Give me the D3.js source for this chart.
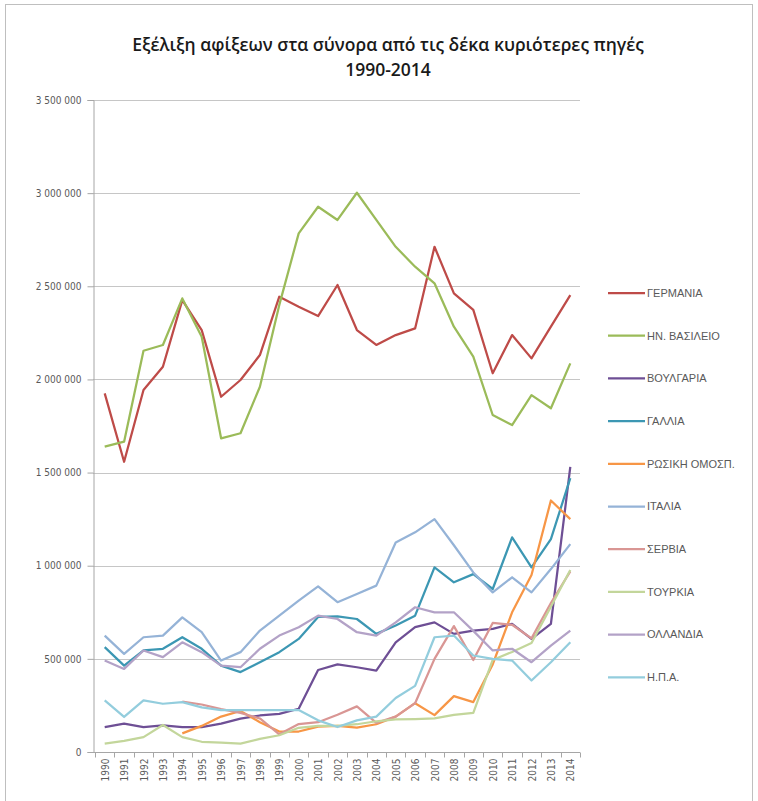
<!DOCTYPE html>
<html><head><meta charset="utf-8">
<script src="https://cdn.jsdelivr.net/npm/d3@7"></script>
<style>
html,body{margin:0;padding:0;background:#fff;}
svg{display:block;}
</style></head>
<body>
<svg id="chart" width="758" height="801"></svg>
<script>
const titleLines = ["Εξέλιξη αφίξεων στα σύνορα από τις δέκα κυριότερες πηγές", "1990-2014"];
const years = ["1990","1991","1992","1993","1994","1995","1996","1997","1998","1999","2000","2001","2002","2003","2004","2005","2006","2007","2008","2009","2010","2011","2012","2013","2014"];
const yTicks = [0, 500000, 1000000, 1500000, 2000000, 2500000, 3000000, 3500000];

const germany = [1925000,1558000,1943000,2068000,2426000,2265000,1907000,1997000,2131000,2444000,2390000,2340000,2507000,2265000,2185000,2238000,2274000,2712000,2462000,2373000,2033000,2238000,2113000,2283000,2453000];
const uk = [1639000,1666000,2154000,2185000,2435000,2229000,1684000,1711000,1961000,2400000,2784000,2927000,2856000,3002000,2856000,2712000,2605000,2516000,2283000,2122000,1809000,1755000,1916000,1845000,2086000];
const bulgaria = [134000,152000,134000,143000,134000,134000,152000,179000,196000,205000,232000,440000,470000,455000,437000,589000,670000,696000,634000,652000,661000,688000,607000,688000,1530000];
const france = [563000,464000,545000,554000,616000,554000,464000,429000,482000,536000,607000,725000,728000,714000,634000,679000,732000,991000,911000,955000,875000,1152000,991000,1143000,1470000];
const russia = [null,null,null,null,100000,140000,190000,220000,160000,110000,110000,136000,140000,131000,149000,190000,262000,198000,300000,268000,470000,750000,950000,1350000,1250000];
const italy = [625000,527000,616000,625000,723000,643000,491000,536000,652000,732000,813000,889000,804000,848000,893000,1125000,1179000,1250000,1110000,964000,857000,938000,857000,982000,1116000];
const serbia = [null,null,null,null,270000,255000,230000,210000,180000,95000,150000,160000,200000,245000,156000,190000,262000,500000,676000,494000,693000,683000,610000,800000,970000];
const turkey = [45000,60000,80000,145000,80000,55000,50000,45000,70000,90000,130000,140000,140000,149000,165000,175000,177000,180000,199000,210000,494000,537000,585000,780000,977000];
const netherlands = [491000,446000,545000,509000,589000,536000,464000,455000,554000,625000,670000,732000,714000,643000,625000,696000,777000,750000,750000,650000,545000,554000,482000,571000,652000];
const usa = [277000,188000,277000,259000,268000,240000,225000,225000,225000,225000,225000,170000,134000,170000,190000,290000,355000,616000,625000,518000,500000,491000,384000,482000,589000];

const seriesNames = ["ΓΕΡΜΑΝΙΑ","ΗΝ. ΒΑΣΙΛΕΙΟ","ΒΟΥΛΓΑΡΙΑ","ΓΑΛΛΙΑ","ΡΩΣΙΚΗ ΟΜΟΣΠ.","ΙΤΑΛΙΑ","ΣΕΡΒΙΑ","ΤΟΥΡΚΙΑ","ΟΛΛΑΝΔΙΑ","Η.Π.Α."];
const seriesValues = [germany, uk, bulgaria, france, russia, italy, serbia, turkey, netherlands, usa];
const seriesColors = ["#BE4B48","#9BBB59","#6E4F95","#3C97B3","#F79646","#95B3D7","#D99694","#C3D69B","#B3A2C7","#93CDDD"];

const svg = d3.select("#chart");
const axisFont = "'Liberation Sans Narrow','DejaVu Sans Condensed','Liberation Sans',sans-serif";

// outer frame
svg.append("rect").attr("x",5.5).attr("y",4.5).attr("width",747).attr("height",800)
  .attr("fill","#fff").attr("stroke","#bfbfbf").attr("stroke-width",1);

// title
svg.append("g").selectAll("text").data(titleLines).join("text")
  .attr("x",388).attr("y",(d,i)=>51 + i*25)
  .attr("text-anchor","middle")
  .attr("font-family","'Open Sans',sans-serif")
  .attr("font-size",17.5).attr("font-weight",600)
  .attr("fill","#1a1a1a")
  .text(d=>d);

const x = d3.scalePoint().domain(years).range([95,580]).padding(0.5);
const y = d3.scaleLinear().domain([0,3500000]).range([752,100]);

// gridlines
svg.append("g").selectAll("line").data(yTicks.filter(d=>d>0)).join("line")
  .attr("x1",93).attr("x2",580)
  .attr("y1",d=>Math.round(y(d))+0.5).attr("y2",d=>Math.round(y(d))+0.5)
  .attr("stroke","#c6c6c6").attr("stroke-width",1);

// y axis
const fmt = v => d3.format(",")(v).replace(/,/g," ");
const yAxis = d3.axisLeft(y).tickValues(yTicks).tickFormat(fmt).tickSize(6).tickPadding(6);
const gy = svg.append("g").attr("transform","translate(93.5,0)").call(yAxis);
gy.selectAll("path,line").attr("stroke","#a6a6a6");
gy.selectAll("text").attr("font-family",axisFont).attr("font-size",10).attr("fill","#595959");

// x axis
const xAxis = d3.axisBottom(x).tickSize(0).tickPadding(6);
const gx = svg.append("g").attr("transform","translate(0,752.5)").call(xAxis);
gx.select(".domain").attr("stroke","#a6a6a6").attr("d","M93,0H580");
gx.selectAll("text")
  .attr("font-family",axisFont).attr("font-size",10).attr("fill","#595959")
  .attr("transform","rotate(-90)")
  .attr("text-anchor","end").attr("dy","0.35em").attr("x",-6).attr("y",0);
// category boundary ticks
const step = x.step();
svg.append("g").selectAll("line").data(years.concat(["end"])).join("line")
  .attr("x1",(d,i)=>Math.round(95 + i*step)+0.5).attr("x2",(d,i)=>Math.round(95 + i*step)+0.5)
  .attr("y1",752.5).attr("y2",757.5).attr("stroke","#a6a6a6");

// lines
const line = d3.line().defined(d=>d!=null).x((d,i)=>x(years[i])).y(d=>y(d));
svg.append("g").selectAll("path").data(seriesValues).join("path")
  .attr("fill","none")
  .attr("stroke",(d,i)=>seriesColors[i])
  .attr("stroke-width",2.25)
  .attr("stroke-linejoin","round")
  .attr("d",d=>line(d));

// legend
const lg = svg.append("g").selectAll("g").data(seriesNames).join("g")
  .attr("transform",(d,i)=>`translate(608,${293 + i*42.7})`);
lg.append("line").attr("x1",0).attr("x2",37).attr("y1",0).attr("y2",0)
  .attr("stroke",(d,i)=>seriesColors[i]).attr("stroke-width",2.25);
lg.append("text").attr("x",39).attr("y",0).attr("dy","0.35em")
  .attr("font-family","'Liberation Sans',sans-serif").attr("font-size",11).attr("fill","#595959")
  .text(d=>d);
</script>
</body></html>
